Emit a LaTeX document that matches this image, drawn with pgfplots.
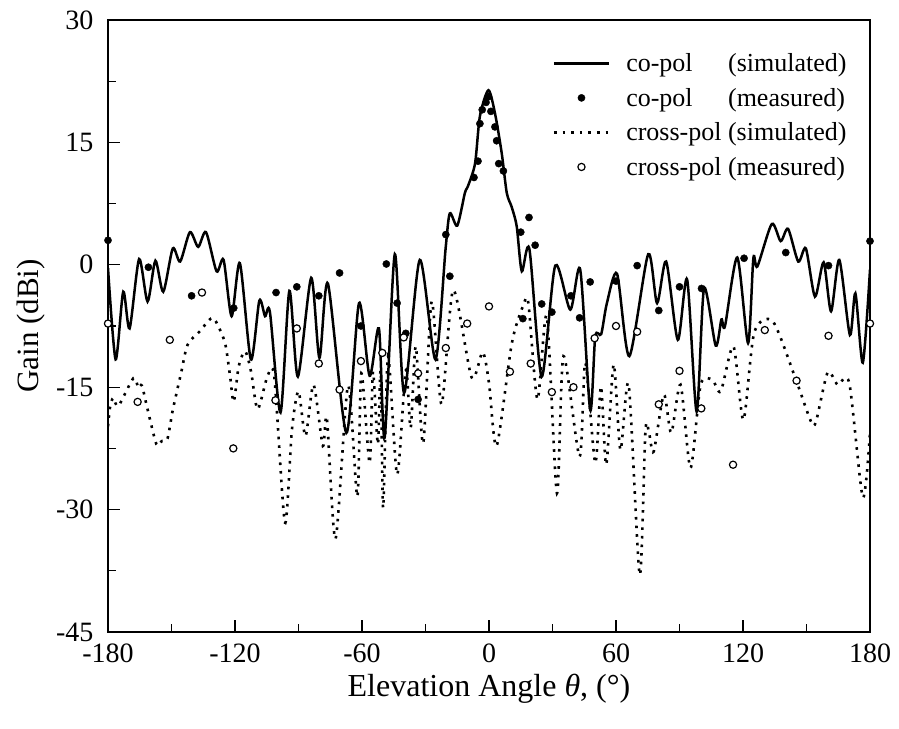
\documentclass[border=0pt]{standalone}
\usepackage{fontspec}
\setmainfont{Liberation Serif}
\usepackage{pgfplots}
\pgfplotsset{compat=1.18}
\pgfplotsset{
  mylineleg/.style={legend image code/.code={\draw[##1] (0pt,0pt) -- (55pt,0pt);}},
  mymarkleg/.style={legend image code/.code={\draw[##1] plot coordinates {(27.5pt,0pt)};}}
}

\begin{document}
\begin{tikzpicture}
\begin{axis}[
  scale only axis, width=762pt, height=612pt,
  xmin=-180, xmax=180, ymin=-45, ymax=30,
  xtick={-180,-120,-60,0,60,120,180},
  ytick={-45,-30,-15,0,15,30},
  xticklabels={-180,-120,-60,0,60,120,180},
  yticklabels={-45,-30,-15,0,15,30},
  minor tick num=1,
  tick align=inside, xtick pos=bottom, ytick pos=left,
  major tick length=11.5pt, minor tick length=8pt,
  axis line style={line width=1.3pt},
  every tick/.style={line width=1.3pt, black},
  tick label style={font=\fontsize{28}{28}\selectfont},
  xticklabel style={yshift=-8pt},
  yticklabel style={xshift=-11pt},
  xlabel={Elevation Angle \textit{θ}, (°)},
  ylabel={Gain (dBi)},
  xlabel style={font=\fontsize{32}{32}\selectfont, yshift=-5pt},
  ylabel style={font=\fontsize{31}{31}\selectfont, yshift=4pt},
  legend style={at={(rel axis cs:0.976,0.952)}, anchor=north east, draw=none, fill=none,
    font=\fontsize{26}{26}\selectfont, legend cell align=left, row sep=11pt,
    /tikz/every odd column/.append style={column sep=14pt}},
]
\addplot[black, line width=2.5pt, smooth, tension=0.45, mylineleg] coordinates {
(-180,-0.4) (-176.4,-11.6) (-172.8,-3.3) (-169.8,-7.8) (-165.3,0.7) (-161.3,-4.5)
(-157.6,0.5) (-153.9,-3.3) (-149.4,2.0) (-145.9,0.4) (-141.3,4.0) (-137.4,2.2)
(-133.7,4.0) (-128.7,-0.8) (-125.4,0.6) (-121.6,-6.3) (-117.7,0.2) (-112.5,-11.6)
(-108.5,-4.4) (-105.8,-6.3) (-103.5,-5.8) (-98.5,-18.1) (-94.3,-3.2) (-90.3,-13.7)
(-84.0,-1.6) (-80.1,-11.4) (-76.1,-2.3) (-67.4,-20.6) (-61.4,-4.7) (-56.4,-13.6)
(-52.0,-7.8) (-49.3,-21.2) (-44.5,1.3) (-40.1,-15.7) (-32.7,0.6) (-25.3,-11.6)
(-20.5,2.0) (-18.5,6.3) (-15.0,4.8) (-11.4,8.8) (-10,9.6) (-6.6,12.4) (-4.3,18.2)
(-0.3,21.4) (2.8,18.6) (6.0,13.7) (8.4,8.8) (10.7,7.1) (13.1,4.7) (15.5,-0.8)
(19.1,1.9) (24.9,-13.7) (31.3,-0.1) (38.4,-5.5) (43.1,-0.6) (47.8,-17.8)
(50.2,-8.8) (53,-8.5) (55.7,-4.7) (60.5,-1.1) (66.3,-11.2) (75.2,1.3) (79.4,-4.7)
(83.7,0.4) (89.2,-9.2) (93.6,-1.8) (98.1,-18.0) (101.6,-2.9) (107.1,-9.9)
(109.8,-6.7) (111.5,-7.5) (117.3,0.9) (122.4,-9.6) (124.9,0.8) (126.8,-0.2)
(133.6,5.0) (137.8,2.9) (141.3,4.4) (146.1,0.4) (149.7,2.0) (154.0,-3.9)
(158.1,0.3) (161.6,-5.7) (165.5,0.6) (170.5,-8.6) (173.1,-3.5) (176.6,-12.0) (180,-0.6)
};
\addlegendentry{\rlap{co-pol}\phantom{cross-pol} (simulated)}

\addplot[only marks, mark=*, mark size=3.6pt, black, mymarkleg] coordinates {
(-180,3.0) (-160.9,-0.3) (-140.5,-3.8) (-120.6,-5.3) (-100.6,-3.4) (-90.8,-2.7)
(-80.4,-3.8) (-70.6,-1.0) (-60.5,-7.5) (-48.5,0.1) (-43.4,-4.7) (-39.3,-8.4)
(-33.5,-16.5) (-20.4,3.7) (-18.5,-1.4) (-7.1,10.7) (-5.2,12.7) (-4.3,17.3)
(-3.2,19.0) (-1.4,19.9) (-0.2,20.6) (0.9,18.8) (2.8,16.9) (3.6,15.2) (4.6,12.4)
(6.8,11.5) (15.0,4.0) (16.0,-6.6) (18.9,5.8) (21.8,2.4) (24.9,-4.8) (29.7,-5.8)
(38.7,-3.8) (42.8,-6.5) (47.8,-2.1) (60.0,-2.0) (70.0,-0.1) (80.2,-5.6)
(90.0,-2.7) (100.4,-2.9) (120.5,0.8) (140.2,1.5) (160.4,-0.1) (180,2.9)
};
\addlegendentry{\rlap{co-pol}\phantom{cross-pol} (measured)}

\addplot[black, line width=2.6pt, dash pattern=on 2.6pt off 6pt, smooth, tension=0.45, mylineleg] coordinates {
(-180,-19.8) (-179,-17.4) (-177.5,-16.3) (-175.1,-17.3) (-168.0,-13.9) (-165.6,-15.1)
(-164,-14.8) (-161.5,-17.5) (-157.1,-22.0) (-154.6,-21.6) (-151.9,-21.3)
(-149.4,-17.8) (-145.5,-13.3) (-142.4,-9.8) (-136.8,-8.2) (-130.8,-6.5)
(-127.4,-7.8) (-124.5,-9.8) (-122.3,-13.7) (-120.6,-16.8) (-118.2,-12.4)
(-115.2,-10.6) (-112.4,-13.1) (-109.3,-17.7) (-104.6,-13.6) (-101.4,-13.8)
(-96.4,-31.6) (-93.1,-20.2) (-90.0,-15.5) (-86.7,-21.0) (-82.9,-14.7) (-78.5,-22.2)
(-76.6,-18.8) (-72.5,-33.6) (-66.6,-14.8) (-62.2,-28.4) (-60.3,-13.3) (-56.4,-24.3)
(-54.8,-13.1) (-52.5,-22) (-51.2,-13) (-50.0,-29.8) (-47.7,-11.2) (-43.4,-25.7)
(-39.3,-12.9) (-37,-20) (-34.6,-10.0) (-31.1,-21.9) (-27.1,-4.5) (-22.4,-17.1)
(-16.9,-3.1) (-8.2,-13.8) (-3.0,-10.7) (0,-14.5) (3.6,-22.2) (10.8,-9.6)
(16.3,-4.9) (18.6,-4.7) (22.9,-16.5) (27.3,-6.3) (32.1,-28.0) (35.2,-11.2)
(42.8,-23.5) (45.5,-12.0) (50.2,-24.3) (52.9,-14.9) (55.4,-24.5) (58.9,-12.2)
(62.1,-22.7) (66.0,-14.7) (71.2,-38.0) (73.9,-20.4) (75.5,-20.4) (77.8,-22.9)
(82.6,-15.9) (86.1,-20.6) (90.5,-14.7) (95.2,-24.9) (100,-14.7) (105.5,-14.1)
(109.5,-15.5) (115.5,-10.0) (120.2,-19.0) (125.3,-8.3) (134.0,-6.9) (144.2,-13.5)
(152.1,-19.2) (154.5,-19.2) (160.0,-13.2) (164.7,-14.7) (170.2,-14.5) (176.6,-28.5)
(180,-20.6)
};
\addlegendentry{cross-pol (simulated)}

\addplot[only marks, mark=*, mark size=3.6pt, draw=black, fill=white,
  mark options={line width=1.2pt, fill=white}, mymarkleg] coordinates {
(-180,-7.2) (-166.0,-16.8) (-150.8,-9.2) (-135.6,-3.4) (-120.8,-22.5) (-100.9,-16.6)
(-90.8,-7.8) (-80.4,-12.1) (-70.6,-15.3) (-60.5,-11.8) (-50.4,-10.8) (-40.3,-8.9)
(-33.5,-13.3) (-20.4,-10.2) (-10.3,-7.2) (0,-5.1) (9.9,-13.1) (19.7,-12.1)
(29.7,-15.6) (39.9,-15.0) (49.9,-9.0) (60.0,-7.5) (70.0,-8.2) (80.2,-17.1)
(90.0,-13.0) (100.3,-17.6) (115.3,-24.5) (130.3,-8.0) (145.3,-14.2) (160.4,-8.7)
(180,-7.2)
};
\addlegendentry{cross-pol (measured)}
\end{axis}
\pgfresetboundingbox
\path ([shift={(-108pt,-97pt)}]current axis.south west) rectangle ([shift={(29pt,20pt)}]current axis.north east);
\end{tikzpicture}
\end{document}
